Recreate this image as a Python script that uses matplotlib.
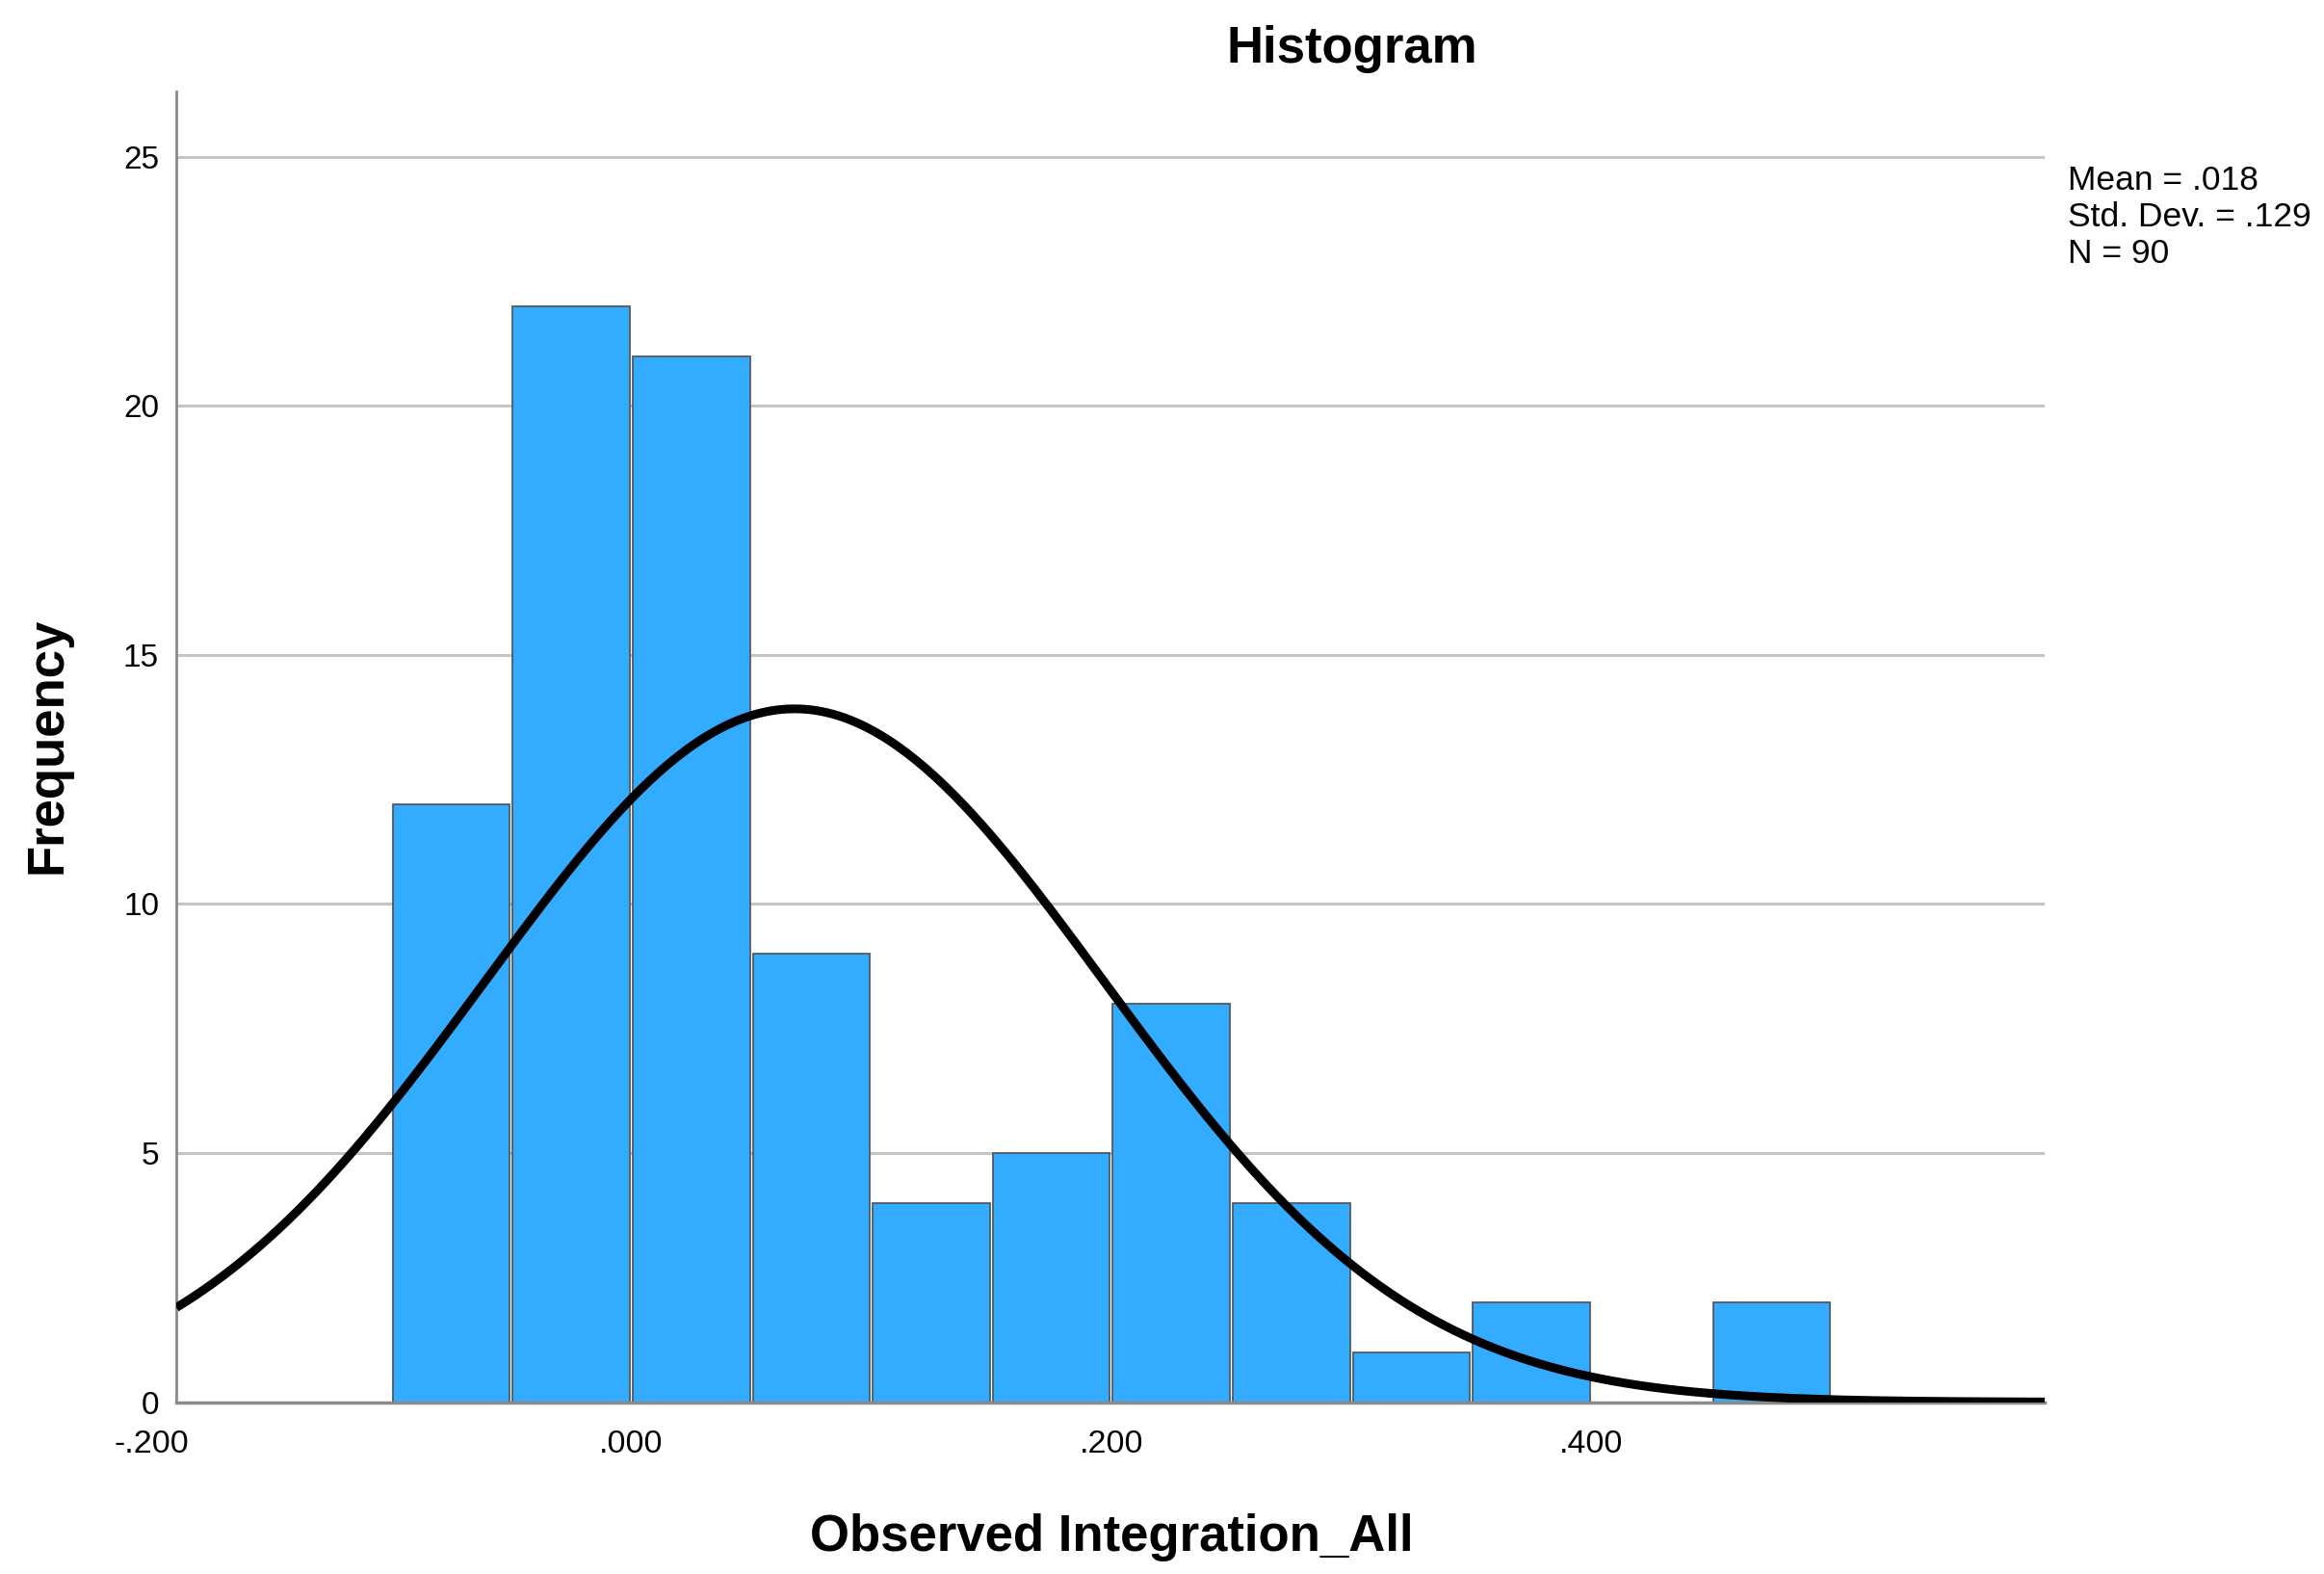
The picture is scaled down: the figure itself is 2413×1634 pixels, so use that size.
import numpy as np
import matplotlib
matplotlib.use("Agg")
import matplotlib.pyplot as plt

plt.rcParams['font.family'] = ['Liberation Sans', 'DejaVu Sans']

# histogram bins (left edges) and counts
bin_left = [-0.10, -0.05, 0.00, 0.05, 0.10, 0.15, 0.20, 0.25, 0.30, 0.35, 0.40, 0.45]
counts = [12, 22, 21, 9, 4, 5, 8, 4, 1, 2, 0, 2]
bin_width = 0.05

# normal curve drawn by SPSS
curve_mean = 0.068
curve_sd = 0.129
n_obs = 90

stats_lines = ["Mean = .018", "Std. Dev. = .129", "N = 90"]
xtick_vals = [-0.2, 0.0, 0.2, 0.4]
xtick_labels = ["-.200", ".000", ".200", ".400"]
ytick_vals = [0, 5, 10, 15, 20, 25]

fig = plt.figure(figsize=(24.13, 16.34), dpi=100)
ax = fig.add_axes([0.0759, 0.1092, 0.880 - 0.0759, 0.9416 - 0.1092])

xmin, xmax = -0.1895, 0.589
ax.set_xlim(xmin, xmax)
ax.set_ylim(0, 26.3)

# gridlines
for v in ytick_vals[1:]:
    ax.axhline(v, color="#c4c4c4", lw=2.2, zorder=0)

left = np.array(bin_left)
ax.bar(left + bin_width / 2, counts, width=bin_width * 0.975, color="#33abff",
       edgecolor="#505a64", linewidth=1.3, zorder=2)

x = np.linspace(xmin, xmax, 400)
y = n_obs * bin_width * np.exp(-0.5 * ((x - curve_mean) / curve_sd) ** 2) / (curve_sd * np.sqrt(2 * np.pi))
ax.plot(x, y, color="black", lw=6.5, zorder=3, solid_capstyle="butt")

for s in ["top", "right"]:
    ax.spines[s].set_visible(False)
ax.spines["left"].set_color("#8a8a8a")
ax.spines["left"].set_linewidth(2)
ax.spines["bottom"].set_color("#8a8a8a")
ax.spines["bottom"].set_linewidth(2.5)

ax.set_yticks(ytick_vals)
ax.set_yticklabels([str(v) for v in ytick_vals])
ax.tick_params(axis="y", length=0, pad=13, labelsize=24)
ax.set_xticks([])
for v, lab in zip(xtick_vals, xtick_labels):
    ax.text(v, -0.55, lab, ha="center", va="top", fontsize=24.5, clip_on=False)

fig.text(912 / 1568, 1 - 33 / 1062, "Histogram", ha="center", va="center",
         fontsize=38, fontweight="bold")
fig.text(750 / 1568, 1 - 1037 / 1062, "Observed Integration_All", ha="center", va="center",
         fontsize=38, fontweight="bold")
fig.text(32 / 1568, 1 - 503 / 1062, "Frequency", ha="center", va="center",
         rotation=90, fontsize=38, fontweight="bold")
fig.text(1395 / 1568, 1 - 111 / 1062, "\n".join(stats_lines), ha="left", va="top",
         fontsize=25.5, linespacing=1.2)

fig.savefig("out.png", dpi=100, facecolor="white")
